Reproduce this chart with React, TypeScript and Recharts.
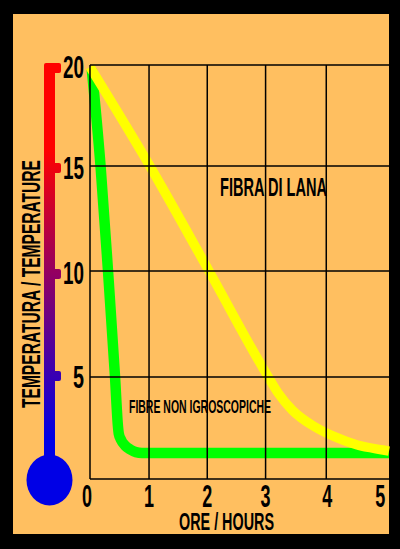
import { ComposedChart, Line, ReferenceLine, XAxis, YAxis } from 'recharts';

const greenHours = [0.03, 0.18, 0.307, 0.427, 0.478, 0.491, 0.532, 0.597, 0.683, 0.782, 0.887, 1.5, 5.1];
const greenTemps = [19.8, 15.12, 10.05, 4.93, 2.51, 2.19, 1.88, 1.62, 1.43, 1.3, 1.26, 1.26, 1.26];
const yellowHours = [0, 1.02, 2.03, 3.04, 3.21, 3.45, 3.84, 4.18, 4.56, 5.0, 5.1];
const yellowTemps = [19.9, 15.12, 10.05, 4.93, 4.15, 3.33, 2.51, 2.03, 1.64, 1.4, 1.35];

const hourGrid = [1.007, 2.0, 2.995, 4.03];
const tempGrid = [4.93, 10.05, 15.12, 20];
const hourTicks = [0, 1.007, 2.0, 2.995, 4.03, 4.95];
const tempTicks = [0, 4.93, 10.05, 15.12, 20];

const tableGreen = greenHours.map((h, i) => ({ h, t: greenTemps[i] }));
const tableYellow = yellowHours.map((h, i) => ({ h, t: yellowTemps[i] }));

const FONT = '"Liberation Sans Narrow", "Liberation Sans", sans-serif';

function Squeezed({ x, y, w, size, rotate, children }: any) {
  return (
    <text
      x={x}
      y={y}
      fontFamily={FONT}
      fontWeight="bold"
      fontSize={size}
      fill="#000"
      textLength={w}
      lengthAdjust="spacingAndGlyphs"
      transform={rotate ? `rotate(${rotate} ${x} ${y})` : undefined}
    >
      {children}
    </text>
  );
}

function HourTick({ x, y, payload }: any) {
  const label = String(Math.round(payload.value));
  const shift = label === '0' ? 8 : label === '4' ? 4 : 5;
  return (
    <Squeezed x={x - shift} y={507} w={10} size={32}>
      {label}
    </Squeezed>
  );
}

function TempTick({ x, y, payload }: any) {
  const label = String(Math.round(payload.value));
  if (label === '0') return null;
  const w = label.length === 2 ? 21 : 11;
  return (
    <Squeezed x={84 - w} y={label === '5' ? y + 11 : y + 13} w={w} size={32}>
      {label}
    </Squeezed>
  );
}

function Thermometer() {
  return (
    <svg width={400} height={549} style={{ position: 'absolute', left: 0, top: 0 }}>
      <defs>
        <linearGradient id="tube" gradientUnits="userSpaceOnUse" x1="0" y1="150" x2="0" y2="440">
          <stop offset="0" stopColor="#ff0000" />
          <stop offset="1" stopColor="#0000e6" />
        </linearGradient>
      </defs>
      <rect x={44} y={63} width={11} height={410} rx={2} fill="url(#tube)" />
      <rect x={50} y={63} width={11} height={10} rx={2} fill="url(#tube)" />
      <rect x={50} y={163} width={11} height={10} rx={2} fill="url(#tube)" />
      <rect x={50} y={269} width={11} height={10} rx={2} fill="url(#tube)" />
      <rect x={50} y={371} width={11} height={10} rx={2} fill="url(#tube)" />
      <ellipse cx={49.5} cy={480} rx={23} ry={25.5} fill="#0000e6" />
    </svg>
  );
}

export default function App() {
  return (
    <div style={{ position: 'absolute', left: 0, top: 0, width: 400, height: 549, background: '#000' }}>
      <div style={{ position: 'absolute', left: 13, top: 14, width: 376, height: 520, background: '#ffbf60' }} />
      <Thermometer />
      <div style={{ position: 'absolute', left: 0, top: 0 }}>
        <ComposedChart width={400} height={549} margin={{ top: 65, right: 11, bottom: 30, left: 30 }}>
          <XAxis
            type="number"
            dataKey="h"
            domain={[0, 5.1]}
            ticks={hourTicks}
            interval={0}
            tick={<HourTick />}
            tickLine={false}
            axisLine={{ stroke: '#000', strokeWidth: 1.5 }}
            height={40}
          />
          <YAxis
            type="number"
            dataKey="t"
            domain={[0, 20]}
            ticks={tempTicks}
            interval={0}
            tick={<TempTick />}
            tickLine={false}
            axisLine={{ stroke: '#000', strokeWidth: 1.5 }}
            width={60}
          />
          <Line data={tableGreen} dataKey="t" type="monotone" stroke="#00ff00" strokeWidth={10.5} dot={false} isAnimationActive={false} />
          <Line data={tableYellow} dataKey="t" type="monotone" stroke="#ffff00" strokeWidth={9.5} dot={false} isAnimationActive={false} />
          {hourGrid.map((h) => (
            <ReferenceLine key={h} x={h} stroke="#000" strokeWidth={1.5} />
          ))}
          {tempGrid.map((t) => (
            <ReferenceLine key={t} y={t} stroke="#000" strokeWidth={1.5} />
          ))}
          <Squeezed x={220} y={196} w={107} size={25}>FIBRA DI LANA</Squeezed>
          <Squeezed x={129} y={413} w={142} size={19}>FIBRE NON IGROSCOPICHE</Squeezed>
          <Squeezed x={179} y={530} w={95} size={24}>ORE / HOURS</Squeezed>
          <Squeezed x={40} y={408} w={248} size={25} rotate={-90}>TEMPERATURA / TEMPERATURE</Squeezed>
        </ComposedChart>
      </div>
    </div>
  );
}
